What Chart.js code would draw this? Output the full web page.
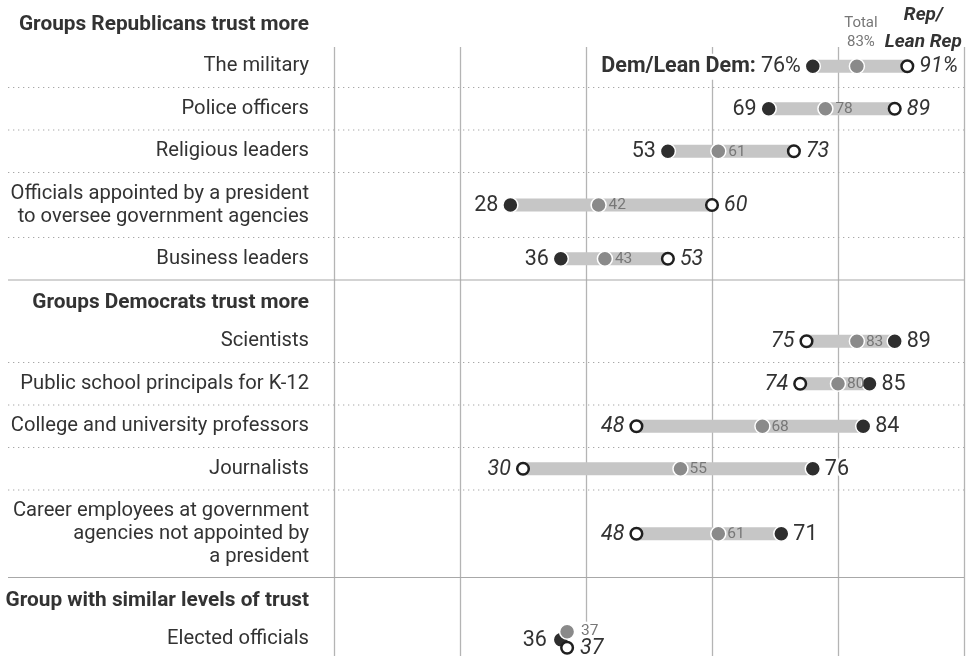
<!DOCTYPE html>
<html>
<head>
<meta charset="utf-8">
<script src="https://cdn.jsdelivr.net/npm/chart.js@4.4.0/dist/chart.umd.min.js"></script>
<style>
  html, body { margin: 0; padding: 0; background: #fff; }
  #wrap { width: 970px; height: 656px; }
</style>
</head>
<body>
<div id="wrap"><canvas id="trustChart" width="970" height="656"></canvas></div>
<script>
// --- Datos ---
const sectionTitles = [
  'Groups Republicans trust more',
  'Groups Democrats trust more',
  'Group with similar levels of trust'
];
const groupLabels = [
  'The military',
  'Police officers',
  'Religious leaders',
  'Officials appointed by a president\nto oversee government agencies',
  'Business leaders',
  'Scientists',
  'Public school principals for K-12',
  'College and university professors',
  'Journalists',
  'Career employees at government\nagencies not appointed by\na president',
  'Elected officials'
];
const groupSection = [0, 0, 0, 0, 0, 1, 1, 1, 1, 1, 2];
const demValues   = [76, 69, 53, 28, 36, 89, 85, 84, 76, 71, 36];
const totalValues = [83, 78, 61, 42, 43, 83, 80, 68, 55, 61, 37];
const repValues   = [91, 89, 73, 60, 53, 75, 74, 48, 30, 48, 37];
const xTicks = [0, 20, 40, 60, 80, 100];

// --- Layout de filas (alturas segun lineas de etiqueta) ---
const FONT = 'Roboto, "Noto Sans", sans-serif';
const TEXT = '#333333';
const ROW_H = 42.5, LINE_H = 22.5;
const rowY = [], sepLines = [], headerY = [25];
let cur = 45;
groupLabels.forEach((lab, i) => {
  if (i > 0 && groupSection[i] !== groupSection[i - 1]) {
    sepLines.push({ y: cur, solid: true });
    headerY.push(cur + 23);
    cur += 40;
  } else if (i > 0) {
    sepLines.push({ y: cur, solid: false });
  }
  const n = lab.split('\n').length;
  const h = ROW_H + LINE_H * (n - 1);
  rowY.push(cur + h / 2);
  cur += h;
});
// desplazamiento vertical para la fila con puntos superpuestos
const nudge = (i, k) => (groupSection[i] === 2 ? [1, -7, 9][k] : 0);

// --- Datasets ---
const barSets = demValues.map((d, i) => ({
  type: 'line',
  data: [{ x: d, y: rowY[i] }, { x: repValues[i], y: rowY[i] }],
  borderColor: '#c6c6c6',
  borderWidth: 13,
  borderCapStyle: 'butt',
  pointRadius: 0,
  clip: false,
  order: 10
}));

const demSet = {
  data: demValues.map((v, i) => ({ x: v, y: rowY[i] + nudge(i, 0) })),
  backgroundColor: '#2e2e2e', borderColor: '#fff', borderWidth: 1.5,
  pointRadius: 7.5, clip: false, order: 3
};
const repSet = {
  data: repValues.map((v, i) => ({ x: v, y: rowY[i] + nudge(i, 2) })),
  backgroundColor: '#fff', borderColor: '#1f1f1f', borderWidth: 2.5,
  pointRadius: 5.8, clip: false, order: 2
};
const totalSet = {
  data: totalValues.map((v, i) => ({ x: v, y: rowY[i] + nudge(i, 1) })),
  backgroundColor: '#8a8a8a', borderColor: '#fff', borderWidth: 1.5,
  pointRadius: 7.5, clip: false, order: 1
};

// --- Helpers de texto ---
function drawText(ctx, s, x, y, font, color, align, halo) {
  ctx.font = font;
  ctx.textAlign = align;
  ctx.textBaseline = 'middle';
  if (halo) {
    ctx.lineWidth = 5; ctx.strokeStyle = '#fff'; ctx.lineJoin = 'round';
    ctx.strokeText(s, x, y);
  }
  ctx.fillStyle = color;
  ctx.fillText(s, x, y);
  return ctx.measureText(s).width;
}

const labelPlugin = {
  id: 'labels',
  beforeDatasetsDraw(chart) {
    const ctx = chart.ctx, xs = chart.scales.x;
    ctx.save();
    // lineas verticales de la escala x
    ctx.strokeStyle = '#b4b4b4';
    ctx.lineWidth = 1.3;
    xTicks.forEach(v => {
      const px = Math.round(xs.getPixelForValue(v)) + 0.5;
      ctx.beginPath(); ctx.moveTo(px, 47); ctx.lineTo(px, 656); ctx.stroke();
    });
    // separadores
    ctx.strokeStyle = '#a8a8a8';
    ctx.lineWidth = 1.2;
    sepLines.forEach(s => {
      ctx.setLineDash(s.solid ? [] : [1.3, 3.7]);
      ctx.beginPath(); ctx.moveTo(8, s.y); ctx.lineTo(964, s.y); ctx.stroke();
    });
    ctx.restore();
  },
  afterDatasetsDraw(chart) {
    const ctx = chart.ctx, xs = chart.scales.x, ys = chart.scales.y;
    const big = '21.5px ' + FONT, bigIt = 'italic 21.5px ' + FONT, small = '15.5px ' + FONT;
    ctx.save();

    // titulos de seccion
    sectionTitles.forEach((t, s) => drawText(ctx, t, 309, headerY[s], 'bold 20.8px ' + FONT, TEXT, 'right'));

    // etiquetas de filas
    groupLabels.forEach((lab, i) => {
      const lines = lab.split('\n');
      lines.forEach((ln, k) => {
        const yy = ys.getPixelForValue(rowY[i]) + (k - (lines.length - 1) / 2) * 23;
        drawText(ctx, ln, 309, yy, '20.2px ' + FONT, TEXT, 'right');
      });
    });

    // etiquetas de valores
    demValues.forEach((d, i) => {
      const sec = groupSection[i];
      const y = ys.getPixelForValue(rowY[i]) + 0.5;
      const dx = xs.getPixelForValue(d);
      const tx = xs.getPixelForValue(totalValues[i]);
      const rx = xs.getPixelForValue(repValues[i]);
      const pct = i === 0 ? '%' : '';
      if (sec === 0) {
        if (i === 0) {
          ctx.font = big;
          const w = ctx.measureText(d + pct).width;
          ctx.font = 'bold 21.5px ' + FONT;
          const wb = ctx.measureText('Dem/Lean Dem:').width;
          ctx.fillStyle = '#fff';
          ctx.fillRect(dx - 12 - w - 5 - wb - 2, y - 13, wb + w + 10, 26);
          drawText(ctx, 'Dem/Lean Dem:', dx - 12 - w - 5, y, 'bold 21.5px ' + FONT, TEXT, 'right');
        }
        drawText(ctx, d + pct, dx - 12, y, big, TEXT, 'right', true);
        drawText(ctx, repValues[i] + pct, rx + 12, y, bigIt, TEXT, 'left', true);
        if (i === 0) {
          drawText(ctx, 'Total', tx + 4, 23, '15px ' + FONT, '#777', 'center');
          drawText(ctx, totalValues[i] + '%', tx + 4, 42, '15px ' + FONT, '#777', 'center');
          drawText(ctx, 'Rep/', rx + 16, 15, 'italic bold 19px ' + FONT, TEXT, 'center');
          drawText(ctx, 'Lean Rep', rx + 16, 42, 'italic bold 19px ' + FONT, TEXT, 'center');
        } else {
          drawText(ctx, String(totalValues[i]), tx + 10, y, small, '#777', 'left');
        }
      } else if (sec === 1) {
        drawText(ctx, String(repValues[i]), rx - 12, y, bigIt, TEXT, 'right', true);
        drawText(ctx, String(d), dx + 12, y, big, TEXT, 'left', true);
        drawText(ctx, String(totalValues[i]), tx + 9, y, small, '#777', 'left');
      } else {
        drawText(ctx, String(d), dx - 14, y + nudge(i, 0), big, TEXT, 'right', true);
        drawText(ctx, String(totalValues[i]), tx + 14, y + nudge(i, 1) - 1, small, '#777', 'left', true);
        drawText(ctx, String(repValues[i]), rx + 13, y + nudge(i, 2), bigIt, TEXT, 'left', true);
      }
    });
    ctx.restore();
  }
};

// --- Chart ---
const ctx = document.getElementById('trustChart').getContext('2d');
new Chart(ctx, {
  type: 'scatter',
  data: { datasets: [totalSet, repSet, demSet, ...barSets] },
  options: {
    responsive: false,
    animation: false,
    layout: { autoPadding: false, padding: { top: 47, left: 334, right: 6, bottom: 0 } },
    plugins: { legend: { display: false }, tooltip: { enabled: false } },
    scales: {
      x: { type: 'linear', min: 0, max: 100, display: false },
      y: { type: 'linear', min: 47, max: 656, reverse: true, display: false }
    }
  },
  plugins: [labelPlugin]
});
</script>
</body>
</html>
